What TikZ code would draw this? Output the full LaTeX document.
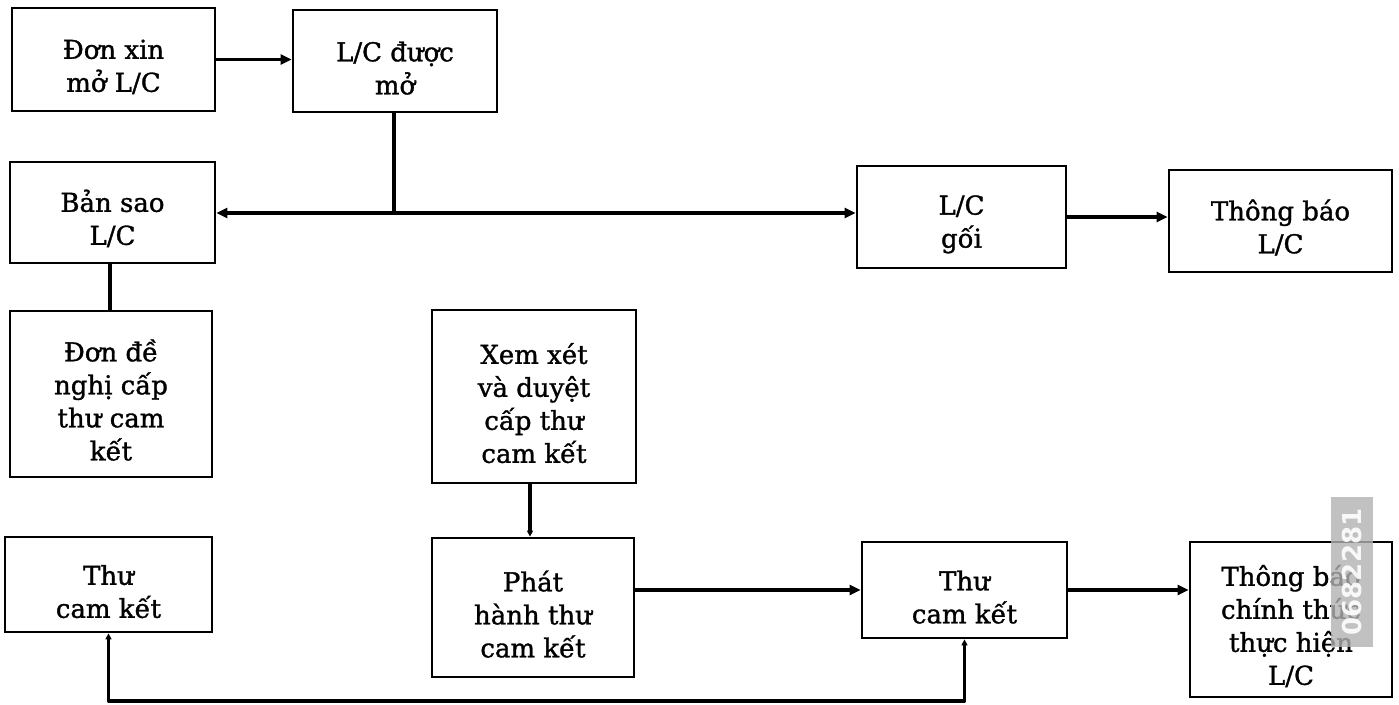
\documentclass[tikz,border=0pt]{standalone}
\usepackage{fontspec}
\newfontfamily\boxfont{DejaVu Serif}[FakeBold=1.2]
\newfontfamily\wmfont{DejaVu Sans}
\newcommand\tp{\rule{0pt}{17pt}}
\usetikzlibrary{arrows.meta}
\tikzset{
  box/.style={draw, line width=1.4pt, align=center, inner sep=0pt,
    font=\boxfont\fontsize{13}{16.5}\selectfont},
  conn/.style={line width=1.7pt},
  arr/.style={conn, -{Triangle[length=5.5pt,width=5pt]}},
  smalltip/.tip={Triangle[length=3pt,width=3pt]},
}
\begin{document}
\begin{tikzpicture}[x=0.5pt,y=-0.5pt]
\useasboundingbox (0,0) rectangle (1399,705);
\node[box, minimum width=101.5pt, minimum height=51.5pt] (A) at (113.5,59.5) {\tp Đơn xin\\mở L/C};
\node[box, minimum width=102pt, minimum height=51pt] (B) at (395,61) {\tp L/C được\\mở};
\node[box, minimum width=102.5pt, minimum height=50.5pt] (C) at (112.5,212.5) {\tp Bản sao\\L/C};
\node[box, minimum width=104.5pt, minimum height=51pt] (D) at (961.5,217) {\tp L/C\\gối};
\node[box, minimum width=111.5pt, minimum height=51pt] (E) at (1280.5,221) {\tp Thông báo\\L/C};
\node[box, minimum width=101pt, minimum height=83pt] (F) at (111,394) {\tp Đơn đề\\nghị cấp\\thư cam\\kết};
\node[box, minimum width=102pt, minimum height=86.5pt] (G) at (534,396.5) {\tp Xem xét\\và duyệt\\cấp thư\\cam kết};
\node[box, minimum width=103.5pt, minimum height=47.5pt] (H) at (108.5,584.5) {\tp Thư\\cam kết};
\node[box, minimum width=101pt, minimum height=69.5pt] (I) at (533,607.5) {\tp Phát\\hành thư\\cam kết};
\node[box, minimum width=102.5pt, minimum height=48pt] (J) at (964.5,590) {\tp Thư\\cam kết};
\node[box, minimum width=101pt, minimum height=77.5pt] (K) at (1291,619.5) {\tp Thông báo\\chính thức\\thực hiện\\L/C};

\coordinate (j) at (394,213);
\draw[arr] (A.east) -- (A.east -| B.west);
\draw[conn] (B.south -| j) -- (j);
\draw[arr] (j) -- (j -| C.east);
\draw[arr] (j) -- (j -| D.west);
\draw[arr] (D.east) -- (D.east -| E.west);
\draw[conn] (C.south -| 110,0) -- (F.north -| 110,0);
\draw[conn, -smalltip] (G.south -| 530,0) -- (I.north -| 530,0);
\draw[arr] (I.east |- J) -- (J.west);
\draw[arr] (J.east) -- (J.east -| K.west);
\draw[conn, smalltip-smalltip, line join=round] (J.south) -- (J.south |- 0,701) -| (H.south);

% watermark strip
\fill[gray!60, opacity=0.8] (1331,497) rectangle (1373,647);
\node[rotate=90, text=white, opacity=0.9, font=\wmfont\bfseries\fontsize{13}{13}\selectfont] (wm) at (1352,572) {0682281};
\end{tikzpicture}
\end{document}
